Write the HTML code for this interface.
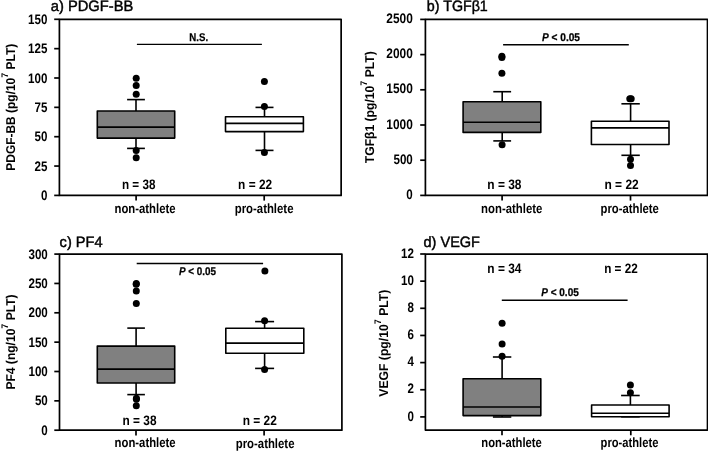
<!DOCTYPE html>
<html><head><meta charset="utf-8"><style>
html,body{margin:0;padding:0;background:#fff;width:708px;height:452px;overflow:hidden}
svg{display:block;will-change:transform;font-family:"Liberation Sans", sans-serif;-webkit-font-smoothing:antialiased}
text{text-rendering:geometricPrecision}
</style></head><body>
<svg width="708" height="452" viewBox="0 0 708 452">
<rect width="708" height="452" fill="#fff"/>
<rect x="59.40" y="19.30" width="281.75" height="176.10" fill="none" stroke="#000" stroke-width="1.7" stroke-linejoin="round"/>
<line x1="54.20" y1="195.40" x2="59.40" y2="195.40" stroke="#000" stroke-width="1.7"/>
<text x="47.40" y="200.00" font-size="13.8" font-weight="bold" text-anchor="end" textLength="6.45" lengthAdjust="spacingAndGlyphs">0</text>
<line x1="54.20" y1="166.05" x2="59.40" y2="166.05" stroke="#000" stroke-width="1.7"/>
<text x="47.40" y="170.65" font-size="13.8" font-weight="bold" text-anchor="end" textLength="12.90" lengthAdjust="spacingAndGlyphs">25</text>
<line x1="54.20" y1="136.70" x2="59.40" y2="136.70" stroke="#000" stroke-width="1.7"/>
<text x="47.40" y="141.30" font-size="13.8" font-weight="bold" text-anchor="end" textLength="12.90" lengthAdjust="spacingAndGlyphs">50</text>
<line x1="54.20" y1="107.35" x2="59.40" y2="107.35" stroke="#000" stroke-width="1.7"/>
<text x="47.40" y="111.95" font-size="13.8" font-weight="bold" text-anchor="end" textLength="12.90" lengthAdjust="spacingAndGlyphs">75</text>
<line x1="54.20" y1="78.00" x2="59.40" y2="78.00" stroke="#000" stroke-width="1.7"/>
<text x="47.40" y="82.60" font-size="13.8" font-weight="bold" text-anchor="end" textLength="19.35" lengthAdjust="spacingAndGlyphs">100</text>
<line x1="54.20" y1="48.65" x2="59.40" y2="48.65" stroke="#000" stroke-width="1.7"/>
<text x="47.40" y="53.25" font-size="13.8" font-weight="bold" text-anchor="end" textLength="19.35" lengthAdjust="spacingAndGlyphs">125</text>
<line x1="54.20" y1="19.30" x2="59.40" y2="19.30" stroke="#000" stroke-width="1.7"/>
<text x="47.40" y="23.90" font-size="13.8" font-weight="bold" text-anchor="end" textLength="19.35" lengthAdjust="spacingAndGlyphs">150</text>
<line x1="136.10" y1="195.40" x2="136.10" y2="200.60" stroke="#000" stroke-width="1.7"/>
<line x1="264.20" y1="195.40" x2="264.20" y2="200.60" stroke="#000" stroke-width="1.7"/>
<line x1="136.00" y1="99.60" x2="136.00" y2="111.00" stroke="#000" stroke-width="1.6"/>
<line x1="136.00" y1="138.10" x2="136.00" y2="148.40" stroke="#000" stroke-width="1.6"/>
<line x1="127.10" y1="99.60" x2="144.90" y2="99.60" stroke="#000" stroke-width="1.6"/>
<line x1="127.10" y1="148.40" x2="144.90" y2="148.40" stroke="#000" stroke-width="1.6"/>
<rect x="97.30" y="111.00" width="77.40" height="27.10" fill="#808080" stroke="#000" stroke-width="1.6" stroke-linejoin="round"/>
<line x1="97.30" y1="127.10" x2="174.70" y2="127.10" stroke="#000" stroke-width="1.6"/>
<circle cx="136.20" cy="78.20" r="3.5" fill="#000"/>
<circle cx="136.20" cy="85.40" r="3.5" fill="#000"/>
<circle cx="136.20" cy="94.20" r="3.5" fill="#000"/>
<circle cx="136.20" cy="150.40" r="3.5" fill="#000"/>
<circle cx="136.20" cy="157.70" r="3.5" fill="#000"/>
<line x1="264.50" y1="107.40" x2="264.50" y2="116.70" stroke="#000" stroke-width="1.6"/>
<line x1="264.50" y1="131.60" x2="264.50" y2="150.40" stroke="#000" stroke-width="1.6"/>
<line x1="255.50" y1="107.40" x2="273.50" y2="107.40" stroke="#000" stroke-width="1.6"/>
<line x1="255.50" y1="150.40" x2="273.50" y2="150.40" stroke="#000" stroke-width="1.6"/>
<rect x="225.50" y="116.70" width="77.90" height="14.90" fill="#fff" stroke="#000" stroke-width="1.6" stroke-linejoin="round"/>
<line x1="225.50" y1="123.40" x2="303.40" y2="123.40" stroke="#000" stroke-width="1.6"/>
<circle cx="264.40" cy="81.50" r="3.5" fill="#000"/>
<circle cx="264.40" cy="106.40" r="3.5" fill="#000"/>
<circle cx="264.40" cy="152.40" r="3.5" fill="#000"/>
<line x1="136.90" y1="44.40" x2="261.90" y2="44.40" stroke="#000" stroke-width="1.4"/>
<text x="189.30" y="40.80" font-size="11.2" font-weight="bold" text-anchor="start" textLength="18.80" lengthAdjust="spacingAndGlyphs" stroke="#000" stroke-width="0.25">N.S.</text>
<text x="122.00" y="188.50" font-size="13.7" font-weight="bold" text-anchor="start" textLength="33.40" lengthAdjust="spacingAndGlyphs">n = 38</text>
<text x="238.10" y="188.60" font-size="13.7" font-weight="bold" text-anchor="start" textLength="34.00" lengthAdjust="spacingAndGlyphs">n = 22</text>
<text x="114.50" y="212.80" font-size="13.5" font-weight="bold" text-anchor="start" textLength="61.00" lengthAdjust="spacingAndGlyphs">non-athlete</text>
<text x="234.70" y="212.60" font-size="13.5" font-weight="bold" text-anchor="start" textLength="58.80" lengthAdjust="spacingAndGlyphs">pro-athlete</text>
<text x="50.80" y="11.30" font-size="15" font-weight="normal" text-anchor="start" textLength="82.50" lengthAdjust="spacingAndGlyphs" stroke="#000" stroke-width="0.45">a) PDGF-BB</text>
<text transform="rotate(-90)" x="-170.70" y="14.90" font-size="12.8" font-weight="bold" textLength="126.90" lengthAdjust="spacingAndGlyphs">PDGF-BB (pg/10<tspan dy="-6.6" font-size="9.5">7</tspan><tspan dy="6.6"> PLT)</tspan></text>
<rect x="425.40" y="19.40" width="282.10" height="176.00" fill="none" stroke="#000" stroke-width="1.7" stroke-linejoin="round"/>
<line x1="420.20" y1="195.40" x2="425.40" y2="195.40" stroke="#000" stroke-width="1.7"/>
<text x="412.80" y="199.00" font-size="13.8" font-weight="bold" text-anchor="end" textLength="6.45" lengthAdjust="spacingAndGlyphs">0</text>
<line x1="420.20" y1="160.20" x2="425.40" y2="160.20" stroke="#000" stroke-width="1.7"/>
<text x="412.80" y="163.80" font-size="13.8" font-weight="bold" text-anchor="end" textLength="19.35" lengthAdjust="spacingAndGlyphs">500</text>
<line x1="420.20" y1="125.00" x2="425.40" y2="125.00" stroke="#000" stroke-width="1.7"/>
<text x="412.80" y="128.60" font-size="13.8" font-weight="bold" text-anchor="end" textLength="26.48" lengthAdjust="spacingAndGlyphs">1000</text>
<line x1="420.20" y1="89.80" x2="425.40" y2="89.80" stroke="#000" stroke-width="1.7"/>
<text x="412.80" y="93.40" font-size="13.8" font-weight="bold" text-anchor="end" textLength="26.48" lengthAdjust="spacingAndGlyphs">1500</text>
<line x1="420.20" y1="54.60" x2="425.40" y2="54.60" stroke="#000" stroke-width="1.7"/>
<text x="412.80" y="58.20" font-size="13.8" font-weight="bold" text-anchor="end" textLength="26.48" lengthAdjust="spacingAndGlyphs">2000</text>
<line x1="420.20" y1="19.40" x2="425.40" y2="19.40" stroke="#000" stroke-width="1.7"/>
<text x="412.80" y="23.00" font-size="13.8" font-weight="bold" text-anchor="end" textLength="26.48" lengthAdjust="spacingAndGlyphs">2500</text>
<line x1="502.10" y1="195.40" x2="502.10" y2="200.60" stroke="#000" stroke-width="1.7"/>
<line x1="630.50" y1="195.40" x2="630.50" y2="200.60" stroke="#000" stroke-width="1.7"/>
<line x1="502.20" y1="91.70" x2="502.20" y2="101.80" stroke="#000" stroke-width="1.6"/>
<line x1="502.20" y1="132.40" x2="502.20" y2="140.90" stroke="#000" stroke-width="1.6"/>
<line x1="493.30" y1="91.70" x2="511.10" y2="91.70" stroke="#000" stroke-width="1.6"/>
<line x1="493.30" y1="140.90" x2="511.10" y2="140.90" stroke="#000" stroke-width="1.6"/>
<rect x="463.10" y="101.80" width="77.70" height="30.60" fill="#808080" stroke="#000" stroke-width="1.6" stroke-linejoin="round"/>
<line x1="463.10" y1="122.30" x2="540.80" y2="122.30" stroke="#000" stroke-width="1.6"/>
<circle cx="501.90" cy="56.20" r="3.5" fill="#000"/>
<circle cx="501.90" cy="57.40" r="3.5" fill="#000"/>
<circle cx="501.90" cy="73.20" r="3.5" fill="#000"/>
<circle cx="502.10" cy="144.70" r="3.5" fill="#000"/>
<line x1="630.60" y1="103.80" x2="630.60" y2="121.30" stroke="#000" stroke-width="1.6"/>
<line x1="630.60" y1="144.50" x2="630.60" y2="155.30" stroke="#000" stroke-width="1.6"/>
<line x1="621.40" y1="103.80" x2="639.80" y2="103.80" stroke="#000" stroke-width="1.6"/>
<line x1="621.40" y1="155.30" x2="639.80" y2="155.30" stroke="#000" stroke-width="1.6"/>
<rect x="591.40" y="121.30" width="77.60" height="23.20" fill="#fff" stroke="#000" stroke-width="1.6" stroke-linejoin="round"/>
<line x1="591.40" y1="127.90" x2="669.00" y2="127.90" stroke="#000" stroke-width="1.6"/>
<circle cx="629.80" cy="98.80" r="3.5" fill="#000"/>
<circle cx="631.20" cy="98.80" r="3.5" fill="#000"/>
<circle cx="630.50" cy="159.30" r="3.5" fill="#000"/>
<circle cx="630.50" cy="165.50" r="3.5" fill="#000"/>
<line x1="503.10" y1="44.70" x2="628.80" y2="44.70" stroke="#000" stroke-width="1.4"/>
<text x="541.90" y="40.90" font-size="11.2" font-weight="bold" stroke="#000" stroke-width="0.25" textLength="38.10" lengthAdjust="spacingAndGlyphs"><tspan font-style="italic">P</tspan> &lt; 0.05</text>
<text x="487.30" y="188.50" font-size="13.7" font-weight="bold" text-anchor="start" textLength="34.20" lengthAdjust="spacingAndGlyphs">n = 38</text>
<text x="604.50" y="188.50" font-size="13.7" font-weight="bold" text-anchor="start" textLength="34.20" lengthAdjust="spacingAndGlyphs">n = 22</text>
<text x="481.10" y="212.80" font-size="13.5" font-weight="bold" text-anchor="start" textLength="61.20" lengthAdjust="spacingAndGlyphs">non-athlete</text>
<text x="600.50" y="212.80" font-size="13.5" font-weight="bold" text-anchor="start" textLength="58.40" lengthAdjust="spacingAndGlyphs">pro-athlete</text>
<text x="426.80" y="11.30" font-size="15" font-weight="normal" text-anchor="start" textLength="61.00" lengthAdjust="spacingAndGlyphs" stroke="#000" stroke-width="0.45">b) TGFβ1</text>
<text transform="rotate(-90)" x="-163.20" y="373.60" font-size="12.8" font-weight="bold" textLength="111.90" lengthAdjust="spacingAndGlyphs">TGFβ1 (pg/10<tspan dy="-6.6" font-size="9.5">7</tspan><tspan dy="6.6"> PLT)</tspan></text>
<rect x="59.50" y="254.10" width="282.40" height="176.10" fill="none" stroke="#000" stroke-width="1.7" stroke-linejoin="round"/>
<line x1="54.30" y1="430.20" x2="59.50" y2="430.20" stroke="#000" stroke-width="1.7"/>
<text x="47.80" y="434.80" font-size="13.8" font-weight="bold" text-anchor="end" textLength="6.45" lengthAdjust="spacingAndGlyphs">0</text>
<line x1="54.30" y1="400.85" x2="59.50" y2="400.85" stroke="#000" stroke-width="1.7"/>
<text x="47.80" y="405.45" font-size="13.8" font-weight="bold" text-anchor="end" textLength="12.90" lengthAdjust="spacingAndGlyphs">50</text>
<line x1="54.30" y1="371.50" x2="59.50" y2="371.50" stroke="#000" stroke-width="1.7"/>
<text x="47.80" y="376.10" font-size="13.8" font-weight="bold" text-anchor="end" textLength="19.35" lengthAdjust="spacingAndGlyphs">100</text>
<line x1="54.30" y1="342.15" x2="59.50" y2="342.15" stroke="#000" stroke-width="1.7"/>
<text x="47.80" y="346.75" font-size="13.8" font-weight="bold" text-anchor="end" textLength="19.35" lengthAdjust="spacingAndGlyphs">150</text>
<line x1="54.30" y1="312.80" x2="59.50" y2="312.80" stroke="#000" stroke-width="1.7"/>
<text x="47.80" y="317.40" font-size="13.8" font-weight="bold" text-anchor="end" textLength="19.35" lengthAdjust="spacingAndGlyphs">200</text>
<line x1="54.30" y1="283.45" x2="59.50" y2="283.45" stroke="#000" stroke-width="1.7"/>
<text x="47.80" y="288.05" font-size="13.8" font-weight="bold" text-anchor="end" textLength="19.35" lengthAdjust="spacingAndGlyphs">250</text>
<line x1="54.30" y1="254.10" x2="59.50" y2="254.10" stroke="#000" stroke-width="1.7"/>
<text x="47.80" y="258.70" font-size="13.8" font-weight="bold" text-anchor="end" textLength="19.35" lengthAdjust="spacingAndGlyphs">300</text>
<line x1="136.00" y1="430.20" x2="136.00" y2="435.40" stroke="#000" stroke-width="1.7"/>
<line x1="264.10" y1="430.20" x2="264.10" y2="435.40" stroke="#000" stroke-width="1.7"/>
<line x1="136.10" y1="328.10" x2="136.10" y2="346.10" stroke="#000" stroke-width="1.6"/>
<line x1="136.10" y1="383.00" x2="136.10" y2="394.60" stroke="#000" stroke-width="1.6"/>
<line x1="127.30" y1="328.10" x2="144.90" y2="328.10" stroke="#000" stroke-width="1.6"/>
<line x1="127.30" y1="394.60" x2="144.90" y2="394.60" stroke="#000" stroke-width="1.6"/>
<rect x="97.30" y="346.10" width="77.40" height="36.90" fill="#808080" stroke="#000" stroke-width="1.6" stroke-linejoin="round"/>
<line x1="97.30" y1="369.10" x2="174.70" y2="369.10" stroke="#000" stroke-width="1.6"/>
<circle cx="136.30" cy="283.50" r="3.5" fill="#000"/>
<circle cx="136.20" cy="284.30" r="3.5" fill="#000"/>
<circle cx="136.30" cy="290.90" r="3.5" fill="#000"/>
<circle cx="136.30" cy="303.60" r="3.5" fill="#000"/>
<circle cx="136.40" cy="398.30" r="3.5" fill="#000"/>
<circle cx="136.40" cy="399.20" r="3.5" fill="#000"/>
<circle cx="136.30" cy="405.80" r="3.5" fill="#000"/>
<line x1="264.60" y1="321.60" x2="264.60" y2="328.20" stroke="#000" stroke-width="1.6"/>
<line x1="264.60" y1="353.30" x2="264.60" y2="368.40" stroke="#000" stroke-width="1.6"/>
<line x1="255.10" y1="321.60" x2="274.10" y2="321.60" stroke="#000" stroke-width="1.6"/>
<line x1="255.10" y1="368.40" x2="274.10" y2="368.40" stroke="#000" stroke-width="1.6"/>
<rect x="225.80" y="328.20" width="78.00" height="25.10" fill="#fff" stroke="#000" stroke-width="1.6" stroke-linejoin="round"/>
<line x1="225.80" y1="343.10" x2="303.80" y2="343.10" stroke="#000" stroke-width="1.6"/>
<circle cx="264.90" cy="271.10" r="3.5" fill="#000"/>
<circle cx="264.60" cy="320.80" r="3.5" fill="#000"/>
<circle cx="264.60" cy="369.60" r="3.5" fill="#000"/>
<line x1="136.70" y1="263.50" x2="263.10" y2="263.50" stroke="#000" stroke-width="1.4"/>
<text x="179.00" y="274.50" font-size="11.2" font-weight="bold" stroke="#000" stroke-width="0.25" textLength="37.10" lengthAdjust="spacingAndGlyphs"><tspan font-style="italic">P</tspan> &lt; 0.05</text>
<text x="122.60" y="425.20" font-size="13.7" font-weight="bold" text-anchor="start" textLength="33.90" lengthAdjust="spacingAndGlyphs">n = 38</text>
<text x="242.70" y="425.10" font-size="13.7" font-weight="bold" text-anchor="start" textLength="34.10" lengthAdjust="spacingAndGlyphs">n = 22</text>
<text x="114.60" y="447.40" font-size="13.5" font-weight="bold" text-anchor="start" textLength="61.00" lengthAdjust="spacingAndGlyphs">non-athlete</text>
<text x="235.70" y="447.50" font-size="13.5" font-weight="bold" text-anchor="start" textLength="58.80" lengthAdjust="spacingAndGlyphs">pro-athlete</text>
<text x="59.60" y="247.00" font-size="15" font-weight="normal" text-anchor="start" textLength="42.90" lengthAdjust="spacingAndGlyphs" stroke="#000" stroke-width="0.45">c) PF4</text>
<text transform="rotate(-90)" x="-389.60" y="14.90" font-size="12.8" font-weight="bold" textLength="95.20" lengthAdjust="spacingAndGlyphs">PF4 (ng/10<tspan dy="-6.6" font-size="9.5">7</tspan><tspan dy="6.6"> PLT)</tspan></text>
<rect x="425.40" y="254.10" width="282.10" height="176.00" fill="none" stroke="#000" stroke-width="1.7" stroke-linejoin="round"/>
<line x1="420.20" y1="416.90" x2="425.40" y2="416.90" stroke="#000" stroke-width="1.7"/>
<text x="414.00" y="420.50" font-size="13.8" font-weight="bold" text-anchor="end" textLength="6.45" lengthAdjust="spacingAndGlyphs">0</text>
<line x1="420.20" y1="389.75" x2="425.40" y2="389.75" stroke="#000" stroke-width="1.7"/>
<text x="414.00" y="393.35" font-size="13.8" font-weight="bold" text-anchor="end" textLength="6.45" lengthAdjust="spacingAndGlyphs">2</text>
<line x1="420.20" y1="362.60" x2="425.40" y2="362.60" stroke="#000" stroke-width="1.7"/>
<text x="414.00" y="366.20" font-size="13.8" font-weight="bold" text-anchor="end" textLength="6.45" lengthAdjust="spacingAndGlyphs">4</text>
<line x1="420.20" y1="335.45" x2="425.40" y2="335.45" stroke="#000" stroke-width="1.7"/>
<text x="414.00" y="339.05" font-size="13.8" font-weight="bold" text-anchor="end" textLength="6.45" lengthAdjust="spacingAndGlyphs">6</text>
<line x1="420.20" y1="308.30" x2="425.40" y2="308.30" stroke="#000" stroke-width="1.7"/>
<text x="414.00" y="311.90" font-size="13.8" font-weight="bold" text-anchor="end" textLength="6.45" lengthAdjust="spacingAndGlyphs">8</text>
<line x1="420.20" y1="281.15" x2="425.40" y2="281.15" stroke="#000" stroke-width="1.7"/>
<text x="414.00" y="284.75" font-size="13.8" font-weight="bold" text-anchor="end" textLength="12.90" lengthAdjust="spacingAndGlyphs">10</text>
<line x1="420.20" y1="254.00" x2="425.40" y2="254.00" stroke="#000" stroke-width="1.7"/>
<text x="414.00" y="257.60" font-size="13.8" font-weight="bold" text-anchor="end" textLength="12.90" lengthAdjust="spacingAndGlyphs">12</text>
<line x1="502.00" y1="430.10" x2="502.00" y2="435.30" stroke="#000" stroke-width="1.7"/>
<line x1="630.80" y1="430.10" x2="630.80" y2="435.30" stroke="#000" stroke-width="1.7"/>
<line x1="502.10" y1="357.00" x2="502.10" y2="378.80" stroke="#000" stroke-width="1.6"/>
<line x1="502.10" y1="415.60" x2="502.10" y2="417.00" stroke="#000" stroke-width="1.6"/>
<line x1="492.90" y1="357.00" x2="511.30" y2="357.00" stroke="#000" stroke-width="1.6"/>
<line x1="492.90" y1="417.00" x2="511.30" y2="417.00" stroke="#000" stroke-width="1.6"/>
<rect x="463.10" y="378.80" width="77.70" height="36.80" fill="#808080" stroke="#000" stroke-width="1.6" stroke-linejoin="round"/>
<line x1="463.10" y1="407.00" x2="540.80" y2="407.00" stroke="#000" stroke-width="1.6"/>
<circle cx="502.10" cy="323.30" r="3.5" fill="#000"/>
<circle cx="502.10" cy="344.00" r="3.5" fill="#000"/>
<circle cx="502.10" cy="356.20" r="3.5" fill="#000"/>
<line x1="630.40" y1="395.50" x2="630.40" y2="405.00" stroke="#000" stroke-width="1.6"/>
<line x1="630.40" y1="416.80" x2="630.40" y2="416.80" stroke="#000" stroke-width="1.6"/>
<line x1="621.10" y1="395.50" x2="639.70" y2="395.50" stroke="#000" stroke-width="1.6"/>
<line x1="621.10" y1="416.80" x2="639.70" y2="416.80" stroke="#000" stroke-width="1.6"/>
<rect x="591.60" y="405.00" width="77.50" height="11.80" fill="#fff" stroke="#000" stroke-width="1.6" stroke-linejoin="round"/>
<line x1="591.60" y1="413.20" x2="669.10" y2="413.20" stroke="#000" stroke-width="1.6"/>
<circle cx="630.40" cy="384.90" r="3.5" fill="#000"/>
<circle cx="630.40" cy="392.80" r="3.5" fill="#000"/>
<line x1="501.80" y1="300.30" x2="627.60" y2="300.30" stroke="#000" stroke-width="1.4"/>
<text x="541.20" y="296.20" font-size="11.2" font-weight="bold" stroke="#000" stroke-width="0.25" textLength="37.60" lengthAdjust="spacingAndGlyphs"><tspan font-style="italic">P</tspan> &lt; 0.05</text>
<text x="487.30" y="272.80" font-size="13.7" font-weight="bold" text-anchor="start" textLength="34.10" lengthAdjust="spacingAndGlyphs">n = 34</text>
<text x="604.20" y="272.80" font-size="13.7" font-weight="bold" text-anchor="start" textLength="33.60" lengthAdjust="spacingAndGlyphs">n = 22</text>
<text x="481.30" y="447.40" font-size="13.5" font-weight="bold" text-anchor="start" textLength="60.50" lengthAdjust="spacingAndGlyphs">non-athlete</text>
<text x="600.60" y="447.40" font-size="13.5" font-weight="bold" text-anchor="start" textLength="57.80" lengthAdjust="spacingAndGlyphs">pro-athlete</text>
<text x="423.50" y="247.20" font-size="15" font-weight="normal" text-anchor="start" textLength="56.50" lengthAdjust="spacingAndGlyphs" stroke="#000" stroke-width="0.45">d) VEGF</text>
<text transform="rotate(-90)" x="-396.70" y="387.80" font-size="12.8" font-weight="bold" textLength="107.00" lengthAdjust="spacingAndGlyphs">VEGF (pg/10<tspan dy="-6.6" font-size="9.5">7</tspan><tspan dy="6.6"> PLT)</tspan></text>
</svg>
</body></html>
